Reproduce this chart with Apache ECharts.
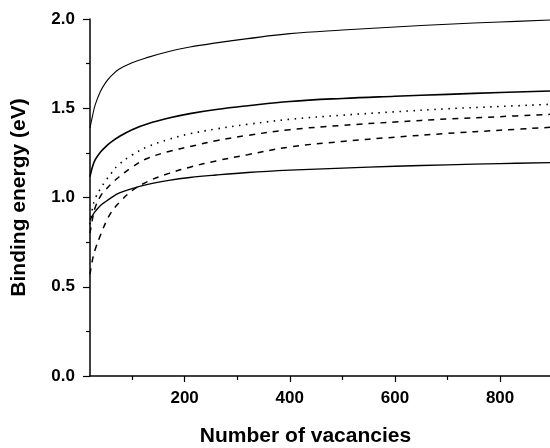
<!DOCTYPE html>
<html>
<head>
<meta charset="utf-8">
<script src="https://cdn.jsdelivr.net/npm/echarts@6/dist/echarts.min.js"></script>
<style>
html,body{margin:0;padding:0;background:#fff;}
#chart{width:550px;height:448px;}
</style>
</head>
<body>
<div id="chart"></div>
<script>
var vacancies = [20, 25, 30, 40, 50, 60, 75, 100, 130, 170, 210, 260, 320, 400, 500, 600, 700, 800, 895];
var curveTop    = [1.39, 1.46, 1.52, 1.595, 1.645, 1.68, 1.718, 1.755, 1.785, 1.818, 1.843, 1.866, 1.89, 1.918, 1.938, 1.955, 1.971, 1.983, 1.994];
var curveSecond = [1.117, 1.175, 1.212, 1.255, 1.285, 1.31, 1.34, 1.38, 1.413, 1.445, 1.47, 1.493, 1.514, 1.538, 1.555, 1.567, 1.578, 1.588, 1.597];
var curveDotted = [0.85, 0.945, 0.995, 1.05, 1.095, 1.135, 1.185, 1.238, 1.285, 1.326, 1.357, 1.384, 1.41, 1.438, 1.461, 1.48, 1.497, 1.51, 1.522];
var curveDash1  = [0.80, 0.885, 0.945, 1.008, 1.045, 1.075, 1.115, 1.17, 1.22, 1.258, 1.285, 1.318, 1.348, 1.38, 1.404, 1.423, 1.44, 1.453, 1.466];
var curveDash2  = [0.57, 0.655, 0.71, 0.79, 0.86, 0.915, 0.97, 1.038, 1.09, 1.135, 1.17, 1.205, 1.24, 1.283, 1.314, 1.338, 1.359, 1.377, 1.393];
var curveBottom = [0.875, 0.9, 0.922, 0.955, 0.978, 0.998, 1.024, 1.05, 1.074, 1.096, 1.112, 1.126, 1.14, 1.153, 1.165, 1.175, 1.183, 1.19, 1.195];
var xMajorTicks = [200, 400, 600, 800];
var xMinorTicks = [100, 300, 500, 700];
var xTitle = 'Number of vacancies';
var yTitle = 'Binding energy (eV)';

function pairs(ys){ return vacancies.map(function(x,i){ return [x, ys[i]]; }); }

var font = "'Liberation Sans', Arial, Helvetica, sans-serif";
var chart = echarts.init(document.getElementById('chart'), null, {renderer:'canvas'});

function mk(ys, width, dash){
  return {
    type:'line', data: pairs(ys), showSymbol:false, symbol:'none', smooth:0.4,
    xAxisIndex:0, yAxisIndex:0,
    lineStyle:{color:'#000', width:width, type: dash || 'solid'},
    animation:false
  };
}

chart.setOption({
  animation:false,
  backgroundColor:'#fff',
  grid:{left:90, right:0, top:19, bottom:72, containLabel:false, outerBoundsMode:'none'},
  xAxis:[{
    type:'value', min:20, max:895, position:'bottom',
    name: xTitle, nameLocation:'middle', nameGap:50,
    nameTextStyle:{fontFamily:font, fontWeight:'bold', fontSize:21, color:'#000', padding:[0,29,0,0]},
    axisLine:{show:true, onZero:false, lineStyle:{color:'#000', width:1.5}},
    axisTick:{show:true, inside:false, length:6, lineStyle:{color:'#000', width:1.2}, customValues: xMajorTicks},
    axisLabel:{show:true, margin:14, fontFamily:font, fontWeight:'bold', fontSize:17, color:'#000', customValues: xMajorTicks},
    splitLine:{show:false}
  },{
    type:'value', min:20, max:895, position:'bottom', offset:0,
    axisLine:{show:false},
    axisTick:{show:true, inside:false, length:4, lineStyle:{color:'#000', width:1.2}, customValues: xMinorTicks},
    axisLabel:{show:false},
    splitLine:{show:false}
  }],
  yAxis:{
    type:'value', min:0, max:2, interval:0.5,
    name: yTitle, nameLocation:'middle', nameGap:60,
    nameTextStyle:{fontFamily:font, fontWeight:'bold', fontSize:21, color:'#000'},
    axisLine:{show:true, onZero:false, lineStyle:{color:'#000', width:1.5}},
    axisTick:{show:true, inside:false, length:7, lineStyle:{color:'#000', width:1.2}},
    minorTick:{show:true, splitNumber:2, length:4, lineStyle:{color:'#000', width:1.2}},
    axisLabel:{margin:15, fontFamily:font, fontWeight:'bold', fontSize:17, color:'#000',
      formatter:function(v){ return v.toFixed(1); }},
    splitLine:{show:false},
    minorSplitLine:{show:false}
  },
  series:[
    mk(curveTop, 1.1),
    mk(curveSecond, 1.6),
    mk(curveDotted, 1.6, [1.5, 5.5]),
    mk(curveDash1, 1.5, [6, 6]),
    mk(curveDash2, 1.5, [6, 6]),
    mk(curveBottom, 1.3)
  ]
});
</script>
</body>
</html>
